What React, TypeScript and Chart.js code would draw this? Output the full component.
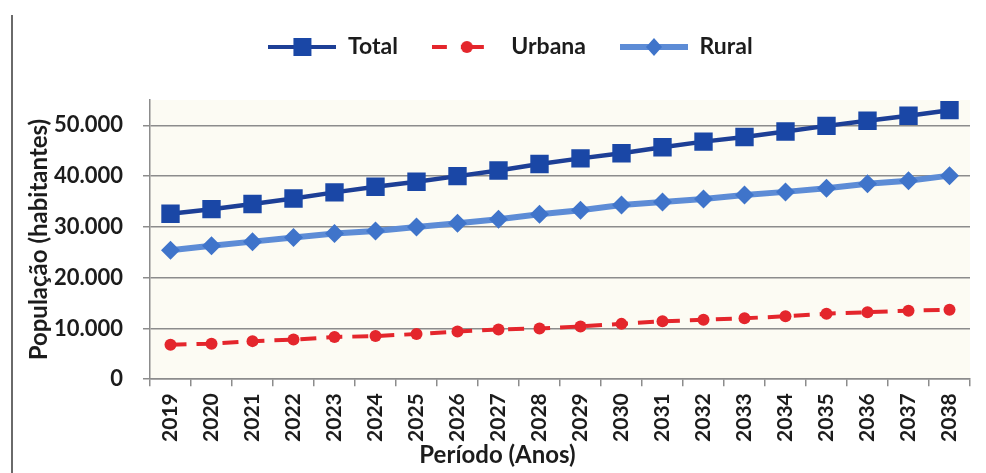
import { useEffect, useRef } from 'react';
import { Chart, registerables } from 'chart.js';

Chart.register(...registerables);

// Population projection (habitantes) per year
const years = [
  '2019', '2020', '2021', '2022', '2023', '2024', '2025', '2026', '2027', '2028',
  '2029', '2030', '2031', '2032', '2033', '2034', '2035', '2036', '2037', '2038',
];
const totalPop = [
  32600, 33500, 34500, 35600, 36800, 37900, 38900, 40000, 41100, 42400,
  43500, 44500, 45700, 46800, 47700, 48800, 49900, 50900, 51900, 53000,
];
const urbanPop = [
  6800, 7000, 7500, 7800, 8300, 8500, 8900, 9400, 9800, 10000,
  10400, 10900, 11400, 11700, 12000, 12400, 12900, 13200, 13500, 13700,
];
const ruralPop = [
  25400, 26300, 27100, 27900, 28700, 29200, 30000, 30700, 31500, 32500,
  33300, 34300, 34900, 35500, 36300, 36900, 37600, 38500, 39100, 40100,
];
const yTickValues = [0, 10000, 20000, 30000, 40000, 50000];
const Y_MAX = 55000;

const FONT = 'Lato, "Open Sans", "DejaVu Sans", sans-serif';
const TEXT = '#1c1c1c';
const GRID = '#8c8c8c';
const PLOT_BG = '#fcfbf3';

const TOTAL_LINE = '#1d3f96';
const TOTAL_MARK = '#1a47a6';
const URBAN = '#e4262c';
const RURAL_LINE = '#5d8cd6';
const RURAL_MARK = '#3f74ca';

const ICON_W = 68;
const ICON_H = 22;

const fmt = (v: number) => String(v).replace(/\B(?=(\d{3})+(?!\d))/g, '.');

// Legend swatches: a short piece of the series line with its marker
function legendIcon(kind: 'total' | 'urban' | 'rural'): HTMLCanvasElement {
  const c = document.createElement('canvas');
  c.width = ICON_W;
  c.height = ICON_H;
  const ctx = c.getContext('2d')!;
  const cy = ICON_H / 2;
  if (kind === 'total') {
    ctx.strokeStyle = TOTAL_LINE;
    ctx.lineWidth = 4;
    ctx.beginPath();
    ctx.moveTo(0, cy);
    ctx.lineTo(ICON_W, cy);
    ctx.stroke();
    ctx.fillStyle = TOTAL_MARK;
    ctx.fillRect(ICON_W / 2 - 9, cy - 9, 18, 18);
  } else if (kind === 'urban') {
    ctx.strokeStyle = URBAN;
    ctx.lineWidth = 4;
    ctx.beginPath();
    ctx.moveTo(0, cy);
    ctx.lineTo(15, cy);
    ctx.moveTo(29, cy);
    ctx.lineTo(52, cy);
    ctx.stroke();
    ctx.fillStyle = URBAN;
    ctx.beginPath();
    ctx.arc(35, cy, 6, 0, Math.PI * 2);
    ctx.fill();
  } else {
    ctx.strokeStyle = RURAL_LINE;
    ctx.lineWidth = 6;
    ctx.beginPath();
    ctx.moveTo(0, cy);
    ctx.lineTo(ICON_W, cy);
    ctx.stroke();
    ctx.fillStyle = RURAL_MARK;
    ctx.beginPath();
    ctx.moveTo(ICON_W / 2, cy - 9);
    ctx.lineTo(ICON_W / 2 + 8, cy);
    ctx.lineTo(ICON_W / 2, cy + 9);
    ctx.lineTo(ICON_W / 2 - 8, cy);
    ctx.closePath();
    ctx.fill();
  }
  return c;
}

const plotBackground = {
  id: 'plotBackground',
  beforeDraw(chart: any) {
    const { ctx, chartArea } = chart;
    ctx.save();
    ctx.fillStyle = PLOT_BG;
    ctx.fillRect(chartArea.left, chartArea.top, chartArea.right - chartArea.left, chartArea.bottom - chartArea.top);
    ctx.restore();
  },
};

// Extra room between the legend row and the plot, and a small nudge of the legend row
const LEGEND_GAP = 29;
const LEGEND_DX = 13;
const LEGEND_DY = -2.5;
const legendTweaks = {
  id: 'legendTweaks',
  beforeInit(chart: any) {
    const legend = chart.legend;
    if (!legend) return;
    const fit = legend.fit;
    legend.fit = function () {
      fit.call(this);
      this.height += LEGEND_GAP;
    };
    const draw = legend.draw;
    legend.draw = function () {
      const ctx = this.ctx;
      ctx.save();
      ctx.translate(LEGEND_DX, LEGEND_DY);
      draw.call(this);
      ctx.restore();
    };
  },
};

export default function App() {
  const canvasRef = useRef<HTMLCanvasElement | null>(null);

  useEffect(() => {
    const canvas = canvasRef.current;
    if (!canvas) return;
    const icons = [legendIcon('total'), legendIcon('urban'), legendIcon('rural')];

    const chart = new Chart(canvas, {
      type: 'line',
      data: {
        labels: years,
        datasets: [
          {
            label: 'Total',
            data: totalPop,
            borderColor: TOTAL_LINE,
            backgroundColor: TOTAL_MARK,
            borderWidth: 4.5,
            pointStyle: 'rect',
            pointRadius: 13,
            pointBorderWidth: 0,
            pointBackgroundColor: TOTAL_MARK,
            tension: 0,
          },
          {
            label: 'Urbana',
            data: urbanPop,
            borderColor: URBAN,
            backgroundColor: URBAN,
            borderWidth: 4,
            borderDash: [16, 10],
            pointStyle: 'circle',
            pointRadius: 6,
            pointBorderWidth: 0,
            pointBackgroundColor: URBAN,
            tension: 0,
          },
          {
            label: 'Rural',
            data: ruralPop,
            borderColor: RURAL_LINE,
            backgroundColor: RURAL_MARK,
            borderWidth: 6,
            pointStyle: 'rectRot',
            pointRadius: 9.5,
            pointBorderWidth: 0,
            pointBackgroundColor: RURAL_MARK,
            tension: 0,
          },
        ],
      },
      options: {
        responsive: false,
        devicePixelRatio: 1,
        animation: false,
        events: [],
        layout: { padding: { left: 25, right: 16, top: 4, bottom: 3 } },
        font: { family: FONT, size: 22, weight: 'bold' },
        plugins: {
          legend: {
            position: 'top',
            labels: {
              usePointStyle: true,
              pointStyleWidth: ICON_W,
              padding: 34,
              color: TEXT,
              font: { family: FONT, size: 23, weight: 'bold' },
              generateLabels: (ch: any) =>
                ch.data.datasets.map((ds: any, i: number) => ({
                  text: ds.label,
                  pointStyle: icons[i],
                  fillStyle: 'transparent',
                  strokeStyle: 'transparent',
                  lineWidth: 0,
                  hidden: false,
                  datasetIndex: i,
                  fontColor: TEXT,
                })),
            },
          },
          title: {
            display: true,
            position: 'bottom',
            text: 'Período (Anos)',
            color: TEXT,
            font: { family: FONT, size: 24, weight: 'bold' },
            padding: { top: -4, bottom: 0 },
          },
          tooltip: { enabled: false },
        },
        scales: {
          x: {
            type: 'category',
            offset: true,
            grid: {
              offset: true,
              drawOnChartArea: false,
              drawTicks: true,
              tickLength: 7,
              color: GRID,
              lineWidth: 1.5,
            },
            border: { color: GRID, width: 1.5 },
            ticks: {
              minRotation: 90,
              maxRotation: 90,
              autoSkip: false,
              padding: 7,
              color: TEXT,
              font: { family: FONT, size: 21, weight: 'bold' },
            },
            afterFit: (scale: any) => {
              scale.height = 66;
            },
          },
          y: {
            min: 0,
            max: Y_MAX,
            afterBuildTicks: (scale: any) => {
              scale.ticks = yTickValues.map((v) => ({ value: v }));
            },
            grid: {
              color: GRID,
              lineWidth: 1.5,
              tickLength: 7,
            },
            border: { color: GRID, width: 1.5 },
            ticks: {
              padding: 20,
              color: TEXT,
              font: { family: FONT, size: 22, weight: 'bold' },
              callback: (v: any) => fmt(Number(v)),
            },
            title: {
              display: true,
              text: 'População (habitantes)',
              color: TEXT,
              font: { family: FONT, size: 24, weight: 'bold' },
              padding: 0,
            },
            afterFit: (scale: any) => {
              scale.width = 125;
            },
          },
        },
      },
      plugins: [plotBackground, legendTweaks],
    } as any);

    return () => chart.destroy();
  }, []);

  return (
    <div style={{ position: 'absolute', left: 0, top: 0, width: 986, height: 473, background: '#ffffff', overflow: 'hidden' }}>
      <div style={{ position: 'absolute', left: 11, top: 15, width: 0, height: 458, borderLeft: '2px solid #6a6a6a' }} />
      <canvas ref={canvasRef} width={986} height={473} style={{ position: 'absolute', left: 0, top: 0, width: 986, height: 473 }} />
    </div>
  );
}
